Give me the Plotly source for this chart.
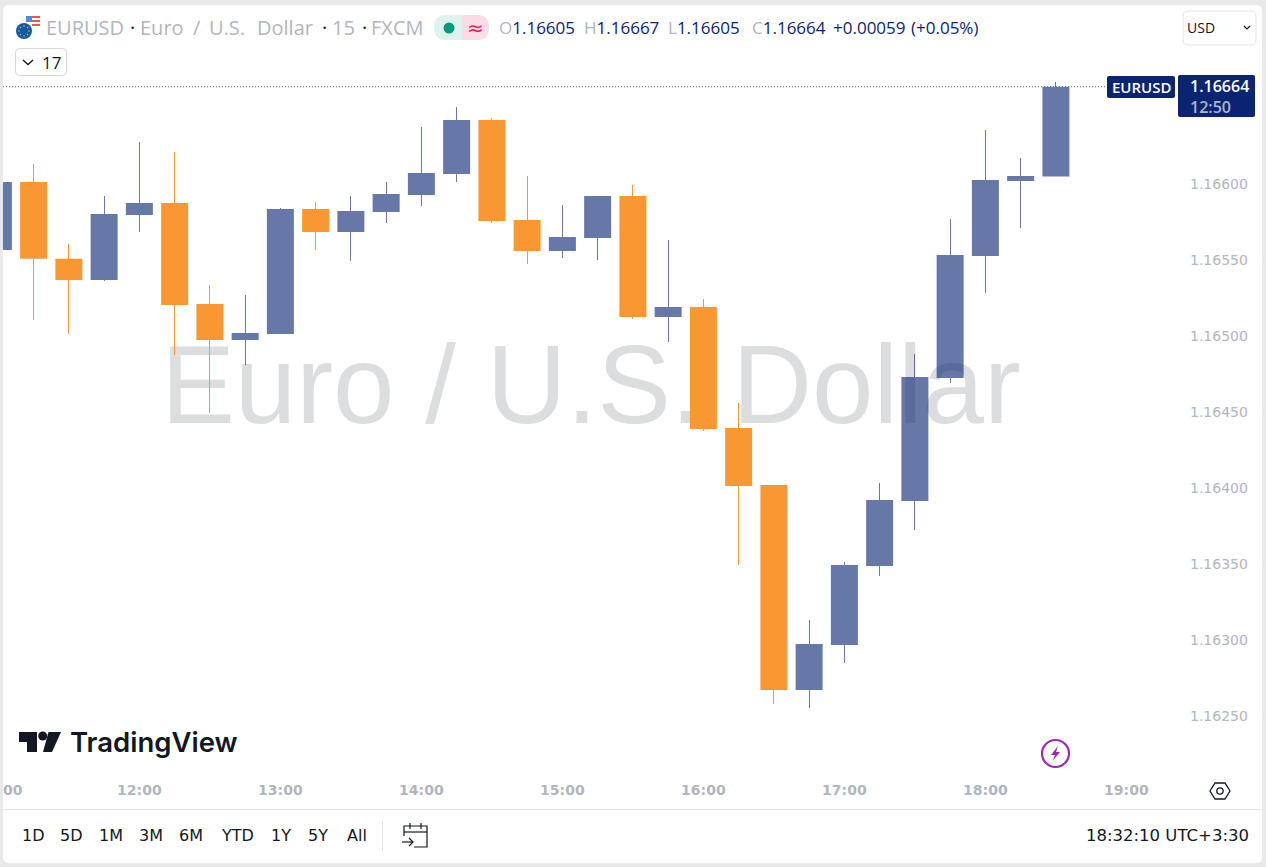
import plotly.graph_objects as go

# ---------- data ----------
times = ["11:00","11:15","11:30","11:45","12:00","12:15","12:30","12:45","13:00","13:15","13:30","13:45",
         "14:00","14:15","14:30","14:45","15:00","15:15","15:30","15:45","16:00","16:15","16:30","16:45",
         "17:00","17:15","17:30","17:45","18:00","18:15","18:30"]
opens  = [1.165566,1.166013,1.165509,1.165368,1.165796,1.165875,1.165211,1.164974,1.165013,1.165836,1.165684,1.165816,
          1.165928,1.166066,1.166421,1.165763,1.165559,1.165645,1.165921,1.165125,1.165191,1.164395,1.164020,1.162671,
          1.162967,1.163487,1.163914,1.164724,1.165526,1.166020,1.16605]
highs  = [1.166013,1.166132,1.165605,1.165921,1.166276,1.166211,1.165336,1.165270,1.165842,1.165882,1.165921,1.166013,
          1.166375,1.166507,1.166434,1.166053,1.165862,1.165921,1.165993,1.165632,1.165243,1.164559,1.164020,1.163132,
          1.163513,1.164033,1.164882,1.165770,1.166355,1.166171,1.16667]
lows   = [1.165566,1.165105,1.165013,1.165362,1.165684,1.164875,1.164493,1.164809,1.165013,1.165566,1.165493,1.165743,
          1.165855,1.166013,1.165743,1.165474,1.165513,1.165500,1.165112,1.164961,1.164375,1.163493,1.162579,1.162553,
          1.162849,1.163421,1.163724,1.164691,1.165283,1.165711,1.16605]
closes = [1.166013,1.165509,1.165368,1.165803,1.165875,1.165204,1.164974,1.165020,1.165836,1.165684,1.165822,1.165934,
          1.166072,1.166421,1.165757,1.165559,1.165651,1.165921,1.165125,1.165191,1.164388,1.164013,1.162671,1.162974,
          1.163493,1.163921,1.164730,1.165533,1.166026,1.166053,1.16664]
axis_hours = ["11:00","12:00","13:00","14:00","15:00","16:00","17:00","18:00","19:00"]
price_ticks = [1.1625,1.163,1.1635,1.164,1.1645,1.165,1.1655,1.166]
range_buttons = ["1D","5D","1M","3M","6M","YTD","1Y","5Y","All"]
title_words = ["EURUSD","·","Euro","/","U.S.","Dollar","·","15","·","FXCM"]
watermark = "Euro / U.S. Dollar"
last_label = "1.16664"
countdown = "12:50"
clock = "18:32:10 UTC+3:30"

# ---------- style ----------
BLUE = "rgba(10,36,114,0.62)"
ORANGE = "rgba(249,151,50,0.995)"
NAVY = "#0a2472"
GREY = "#b2b5be"
INK = "#131722"
FONT = "Open Sans"
WIDE = "DejaVu Sans"
W, H = 1266, 867
L, R, T, B = 3, 1178, 5, 772

def mins(s):
    h, m = s.split(":")
    return int(h) * 60 + int(m)

def px(x): return (x - L) / (R - L)
def py(y): return (B - y) / (B - T)

xs = [mins(t) for t in times]
is_up = [c >= o for o, c in zip(opens, closes)]
colors = [BLUE if u else ORANGE for u in is_up]
tops = [max(o, c) for o, c in zip(opens, closes)]
bots = [min(o, c) for o, c in zip(opens, closes)]
WICK = 60 / 141  # one pixel in axis units

fig = go.Figure()
fig.add_trace(go.Bar(x=[912.1], base=[1.16468], y=[0.000001], width=[1], marker=dict(color="rgba(0,0,0,0)", line=dict(width=0)),
                     text=[watermark], textposition="inside", insidetextanchor="middle", constraintext="none", textangle=0,
                     textfont=dict(family="Liberation Sans", size=110.5, color="#dcdddf"), hoverinfo="skip", cliponaxis=False))
fig.add_trace(go.Bar(x=xs, base=tops, y=[h - t for h, t in zip(highs, tops)], width=WICK,
                     marker=dict(color=colors, line=dict(width=0)), hoverinfo="skip"))
fig.add_trace(go.Bar(x=xs, base=lows, y=[b - l for b, l in zip(bots, lows)], width=WICK,
                     marker=dict(color=colors, line=dict(width=0)), hoverinfo="skip"))
fig.add_trace(go.Candlestick(x=xs, open=opens, high=highs, low=lows, close=closes,
                             increasing=dict(fillcolor=BLUE, line=dict(color=BLUE, width=0)),
                             decreasing=dict(fillcolor=ORANGE, line=dict(color=ORANGE, width=0)),
                             whiskerwidth=0))

shapes, notes = [], []

def rpath(x0, y0, x1, y1, r):
    return (f"M{px(x0+r)},{py(y0)} L{px(x1-r)},{py(y0)} Q{px(x1)},{py(y0)} {px(x1)},{py(y0+r)} "
            f"L{px(x1)},{py(y1-r)} Q{px(x1)},{py(y1)} {px(x1-r)},{py(y1)} L{px(x0+r)},{py(y1)} "
            f"Q{px(x0)},{py(y1)} {px(x0)},{py(y1-r)} L{px(x0)},{py(y0+r)} Q{px(x0)},{py(y0)} {px(x0+r)},{py(y0)} Z")

def shape_path(path, fill="rgba(0,0,0,0)", line=None, lw=1, **kw):
    shapes.append(dict(type="path", xref="paper", yref="paper", path=path, fillcolor=fill,
                       line=dict(color=line or "rgba(0,0,0,0)", width=lw if line else 0), layer="above", **kw))

def poly(pts, fill="rgba(0,0,0,0)", line=None, lw=1, close=True):
    d = "M" + " L".join(f"{px(x)},{py(y)}" for x, y in pts) + (" Z" if close else "")
    shape_path(d, fill, line, lw)

def rect(x0, y0, x1, y1, fill):
    shapes.append(dict(type="rect", xref="paper", yref="paper", x0=px(x0), x1=px(x1), y0=py(y1), y1=py(y0),
                       fillcolor=fill, line=dict(width=0), layer="above"))

def circle(cx, cy, r, fill="rgba(0,0,0,0)", line=None, lw=1):
    shapes.append(dict(type="circle", xref="paper", yref="paper", x0=px(cx-r), x1=px(cx+r), y0=py(cy+r), y1=py(cy-r),
                       fillcolor=fill, line=dict(color=line or "rgba(0,0,0,0)", width=lw if line else 0), layer="above"))

def text(x, y, s, size=15, color=INK, anchor="left", family=FONT, weight=None):
    font = dict(family=family, size=size, color=color)
    if weight:
        font["weight"] = weight
    notes.append(dict(xref="paper", yref="paper", x=px(x), y=py(y), text=s, showarrow=False, xanchor=anchor, yanchor="middle",
                      align=anchor, borderpad=0, borderwidth=0, font=font))

# page frame round the card
outer = f"M{px(0)},{py(0)} L{px(W)},{py(0)} L{px(W)},{py(H)} L{px(0)},{py(H)} Z "
shape_path(outer + rpath(3, 5, 1262, 863, 6), fill="#e9e9e9", fillrule="evenodd")

# last price dotted line
shapes.append(dict(type="line", xref="paper", yref="y", x0=0, x1=px(1107), y0=closes[-1], y1=closes[-1],
                   line=dict(color="#4f64a0", width=1, dash="1px,2px"), layer="above"))

# symbol icon
rect(26, 16, 32, 22, "#4a90d9")
for y0 in (16, 20, 24):
    rect(32, y0, 40, y0 + 2, "#ef5350")
circle(24, 31, 9.5, "#ffffff")
circle(24, 31, 8, "#1259a7")
for dx, dy in ((0,-5),(3.5,-3.5),(5,0),(3.5,3.5),(0,5),(-3.5,3.5),(-5,0),(-3.5,-3.5)):
    circle(24 + dx, 31 + dy, 0.8, "#f2c230")

# header
title_x = [46, 130, 140, 193, 209, 257, 322, 332, 362, 371]
for x, word in zip(title_x, title_words):
    text(x, 28, word, 20, INK if word == "·" else GREY)
shape_path(f"M{px(446)},{py(15)} L{px(462)},{py(15)} L{px(462)},{py(40)} L{px(446)},{py(40)} "
           f"Q{px(434)},{py(40)} {px(434)},{py(27.5)} Q{px(434)},{py(15)} {px(446)},{py(15)} Z", "#dff3ee")
shape_path(f"M{px(462)},{py(15)} L{px(477)},{py(15)} Q{px(489)},{py(15)} {px(489)},{py(27.5)} "
           f"Q{px(489)},{py(40)} {px(477)},{py(40)} L{px(462)},{py(40)} Z", "#fbdbe6")
circle(449, 28, 5.5, "#089981")
text(475, 28, "≈", 20, "#e91e63", "center", "DejaVu Sans")

ohlc = [(499, "O", "1.16605"), (584, "H", "1.16667"), (668, "L", "1.16605"), (752, "C", "1.16664")]
for x, k, v in ohlc:
    text(x, 28, f'<span style="color:{GREY}">{k}</span>{v}', 17, NAVY)
text(833, 28, "+0.00059", 17, NAVY)
text(911, 28, "(+0.05%)", 17, NAVY)

# USD box
shape_path(rpath(1183, 11, 1256, 45, 5), "#ffffff", "#e0e3eb")
text(1187, 27, "USD", 14, INK)
poly([(1244, 26), (1247, 29), (1250, 26)], line=INK, lw=1.2, close=False)

# indicators box
shape_path(rpath(15.5, 48.5, 66.5, 75.5, 4), "#ffffff", "#d6d8de")
poly([(23, 60), (28, 64.5), (33, 60)], line=INK, lw=1.4, close=False)
text(42, 62, "17", 17, INK)

# price labels
shape_path(rpath(1107, 76, 1175, 98, 2), NAVY)
text(1141, 87, "EURUSD", 15, "#ffffff", "center", weight=600)
shape_path(rpath(1178, 75, 1255, 117, 2), NAVY)
text(1190, 96, f'{last_label}<br><span style="color:#aab4cf">{countdown}</span>', 16, "#ffffff", weight=600)

# logo
poly([(19, 732), (37, 732), (37, 752), (27, 752), (27, 742), (19, 742)], INK)
circle(42.7, 736, 4.5, INK)
poly([(48.5, 732), (61, 732), (52, 752), (43, 752)], INK)
text(70, 742, "TradingView", 27.5, INK, family="Inter", weight=600)

# lightning
circle(1055.5, 753.5, 13.5, line="#9c27b0", lw=2.2)
poly([(1058, 746), (1051, 755), (1055, 755), (1052.5, 761), (1060, 752), (1056, 752)], "#9c27b0")

# settings hexagon
poly([(1210, 791), (1215, 783), (1225, 783), (1230, 791), (1225, 799), (1215, 799)], line=INK, lw=1.3)
circle(1220, 791, 3.2, line=INK, lw=1.3)

# bottom bar
rect(3, 809, 1262, 810, "#e0e3eb")
for label, x in zip(range_buttons, [33, 71, 111, 151, 191, 237, 281, 318, 357]):
    text(x, 836, label, 16, INK, "center", WIDE)
rect(382, 821, 383, 851, "#e0e3eb")
poly([(404, 836), (404, 826), (427, 826), (427, 847), (414, 847)], line=INK, lw=1.2, close=False)
poly([(404, 832), (427, 832)], line=INK, lw=1.2, close=False)
poly([(410, 823), (410, 829)], line=INK, lw=1.2, close=False)
poly([(421, 823), (421, 829)], line=INK, lw=1.2, close=False)
poly([(402, 842), (413, 842)], line=INK, lw=1.2, close=False)
poly([(409, 838), (413, 842), (409, 846)], line=INK, lw=1.2, close=False)
text(1249, 836, clock, 16.5, INK, "right", WIDE)

# clipped first time label
text(3, 790, "00", 14, GREY, family=WIDE, weight=700)

fig.update_layout(
    width=W, height=H, autosize=False, showlegend=False,
    margin=dict(l=L, r=W - R, t=T, b=H - B, pad=0, autoexpand=False),
    paper_bgcolor="#ffffff", plot_bgcolor="#ffffff",
    barmode="overlay", boxmode="overlay", boxgap=0.234, boxgroupgap=0, bargap=0,
    shapes=shapes, annotations=notes, hovermode=False,
    xaxis=dict(type="linear", range=[661.96, 1161.96], showgrid=False, zeroline=False, showline=False, ticks="",
               tickmode="array", tickvals=[mins(h) for h in axis_hours], ticktext=axis_hours,
               tickfont=dict(family=WIDE, size=14, color=GREY, weight=700), ticklabelstandoff=8,
               rangeslider=dict(visible=False), fixedrange=True),
    yaxis=dict(type="linear", side="right", range=[1.1621316, 1.1671776], showgrid=False, zeroline=False, showline=False, ticks="",
               tickmode="array", tickvals=price_ticks, ticktext=[f"{v:.5f}" for v in price_ticks],
               tickfont=dict(family=WIDE, size=14, color=GREY), ticklabelstandoff=11, fixedrange=True),
)

fig.write_html("out.html", config={"displayModeBar": False},
               post_script="document.body.style.margin='0';document.body.style.overflow='hidden';")
